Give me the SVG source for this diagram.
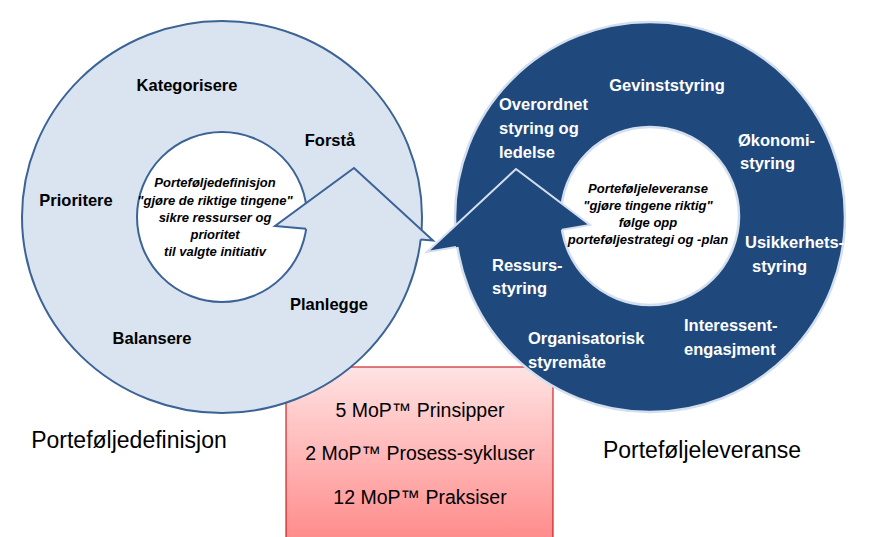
<svg xmlns="http://www.w3.org/2000/svg" width="869" height="537" viewBox="0 0 869 537">
<defs>
<linearGradient id="pink" x1="0" y1="0" x2="0" y2="1">
<stop offset="0" stop-color="#FFE3E3"/>
<stop offset="1" stop-color="#FF8A8A"/>
</linearGradient>
<style>
.lab{font-family:"Liberation Sans",Arial,sans-serif;font-weight:bold;font-size:16.5px}
.dk{fill:#000}
.wt{fill:#fff}
.mid{text-anchor:middle}
.ctr{font-family:"Liberation Sans",Arial,sans-serif;font-weight:bold;font-style:italic;font-size:13px;fill:#000;text-anchor:middle}
.cap{font-family:"Liberation Sans",Arial,sans-serif;font-size:23px;fill:#000;text-anchor:middle}
.box{font-family:"Liberation Sans",Arial,sans-serif;font-size:19.5px;fill:#000;text-anchor:middle}
.lring{fill:#DAE3F0;stroke:#3B6396;stroke-width:2}
.rring{fill:#1F497D;stroke:#D3DFEE;stroke-width:2.5}
</style>
</defs>
<rect width="869" height="537" fill="#fff"/>
<g id="mop-box">
<rect x="286" y="367" width="267" height="175" fill="url(#pink)" stroke="#C00000" stroke-width="1"/>
<text class="box" x="420" y="417">5 MoP™ Prinsipper</text>
<text class="box" x="420" y="460">2 MoP™ Prosess-sykluser</text>
<text class="box" x="420" y="504">12 MoP™ Praksiser</text>
</g>
<g id="portefoljedefinisjon">
<ellipse class="lring" cx="222" cy="217" rx="200" ry="196"/>
<circle cx="222" cy="217" r="85" fill="#fff" stroke="#3B6396" stroke-width="2"/>
<polygon points="275,226 354,168 433,240.6" fill="#DAE3F0"/>
<polyline points="306,228.8 275,226 354,168 433,240.6 420.7,239.6" fill="none" stroke="#3B6396" stroke-width="2"/>
<text class="lab dk mid" x="187" y="91">Kategorisere</text>
<text class="lab dk mid" x="330" y="146">Forstå</text>
<text class="lab dk mid" x="76" y="206">Prioritere</text>
<text class="lab dk mid" x="329" y="310">Planlegge</text>
<text class="lab dk mid" x="152" y="344">Balansere</text>
<text class="ctr" x="215" y="187">Porteføljedefinisjon</text>
<text class="ctr" x="215" y="205">"gjøre de riktige tingene"</text>
<text class="ctr" x="215" y="222">sikre ressurser og</text>
<text class="ctr" x="215" y="239">prioritet</text>
<text class="ctr" x="215" y="256">til valgte initiativ</text>
</g>
<g id="portefoljeleveranse">
<circle class="rring" cx="650" cy="217" r="195"/>
<circle cx="650" cy="216" r="89" fill="#fff" stroke="#D3DFEE" stroke-width="2.5"/>
<polygon points="427,252 516,169 590,225" fill="#1F497D"/>
<polyline points="562,229.7 590,225 516,169 427,252 456,247" fill="none" stroke="#D3DFEE" stroke-width="2"/>
<text class="lab wt mid" x="667" y="91">Gevinststyring</text>
<text class="lab wt" x="499" y="110">Overordnet</text>
<text class="lab wt" x="499" y="134">styring og</text>
<text class="lab wt" x="499" y="158">ledelse</text>
<text class="lab wt" x="738" y="146">Økonomi-</text>
<text class="lab wt" x="740" y="169">styring</text>
<text class="lab wt" x="745" y="248">Usikkerhets-</text>
<text class="lab wt" x="752" y="272">styring</text>
<text class="lab wt" x="492" y="271">Ressurs-</text>
<text class="lab wt" x="492" y="294">styring</text>
<text class="lab wt" x="684" y="331">Interessent-</text>
<text class="lab wt" x="684" y="355">engasjment</text>
<text class="lab wt" x="528" y="344">Organisatorisk</text>
<text class="lab wt" x="528" y="368">styremåte</text>
<text class="ctr" x="648" y="193">Porteføljeleveranse</text>
<text class="ctr" x="648" y="210">"gjøre tingene riktig"</text>
<text class="ctr" x="648" y="227">følge opp</text>
<text class="ctr" x="648" y="244">porteføljestrategi og -plan</text>
</g>
<g id="captions">
<text class="cap" x="129" y="448">Porteføljedefinisjon</text>
<text class="cap" x="702" y="458">Porteføljeleveranse</text>
</g>
</svg>
